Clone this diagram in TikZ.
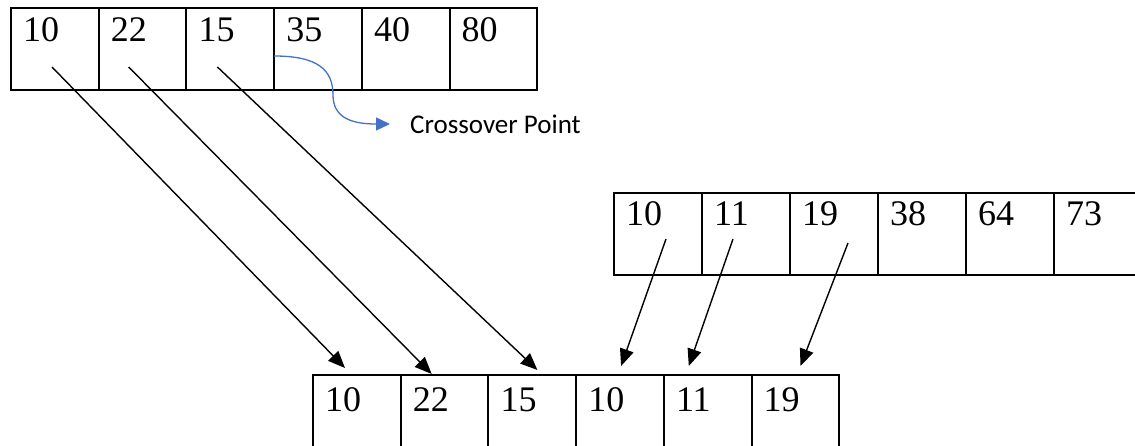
\documentclass[tikz,border=0pt]{standalone}
\usepackage{fontspec}
\setmainfont{Liberation Serif}
\newfontfamily\calib{Carlito}
\usetikzlibrary{arrows.meta,calc}
\begin{document}
\begin{tikzpicture}[x=1pt,y=-1pt,
  cell/.style={draw,line width=2pt,minimum width=87.7pt,minimum height=82pt,inner sep=0pt,outer sep=0pt,anchor=north west},
  num/.style={anchor=base west,font=\fontsize{36}{40}\selectfont,inner sep=0pt},
  conn/.style={line width=1.4pt,-{Triangle[length=17pt,width=14pt]}},
  blueconn/.style={line width=1.3pt,draw={rgb,255:red,68;green,114;blue,196},-{Triangle[length=14pt,width=13pt,fill={rgb,255:red,68;green,114;blue,196}]}}]
\clip (0,0) rectangle (1135,446);
\fill[white] (0,0) rectangle (1135,446);
% top array
\foreach \v [count=\i] in {10,22,15,35,40,80}{
  \node[cell] (t\i) at ({11+(\i-1)*87.7},8) {};
  \node[num] (t\i txt) at ($(t\i.north west)+(12,34)$) {\v};
}
% second array
\foreach \v [count=\i] in {10,11,19,38,64,73}{
  \node[cell] (s\i) at ({614+(\i-1)*88},193) {};
  \node[num] (s\i txt) at ($(s\i.north west)+(12,33)$) {\v};
}
% bottom (offspring) array
\foreach \v [count=\i] in {10,22,15,10,11,19}{
  \node[cell,minimum height=100pt] (b\i) at ({313+(\i-1)*87.7},375) {};
  \node[num] (b\i txt) at ($(b\i.north west)+(12,36)$) {\v};
}
% connector end points
\coordinate (t1s) at ($(t1.north west)+(41,59)$);
\coordinate (t2s) at ($(t2.north west)+(30,59)$);
\coordinate (t3s) at ($(t3.north west)+(31,59)$);
\coordinate (s1s) at ($(s1.north west)+(52,46)$);
\coordinate (s2s) at ($(s2.north west)+(31,46)$);
\coordinate (s3s) at ($(s3.north west)+(58,50)$);
\coordinate (b1e) at ($(b1.north west)+(32,-7)$);
\coordinate (b2e) at ($(b2.north west)+(31,-1)$);
\coordinate (b3e) at ($(b3.north west)+(49,-5)$);
\coordinate (b4e) at ($(b4.north west)+(45,-9)$);
\coordinate (b5e) at ($(b5.north west)+(25,-9)$);
\coordinate (b6e) at ($(b6.north west)+(49,-9)$);
\draw[conn] (t1s) -- (b1e);
\draw[conn] (t2s) -- (b2e);
\draw[conn] (t3s) -- (b3e);
\draw[conn] (s1s) -- (b4e);
\draw[conn] (s2s) -- (b5e);
\draw[conn] (s3s) -- (b6e);
% crossover point
\node[anchor=base west,inner sep=0pt,font=\calib\fontsize{27}{32}\selectfont] (cp) at (410,134) {Crossover Point};
\coordinate (cps) at ($(t4.north west)+(0,48)$);
\coordinate (cpe) at ($(cp.base west)+(-20,-10)$);
\draw[blueconn] (cps) .. controls (318,56) and (333,70) .. (333,95) .. controls (333,118) and (352,124) .. (cpe);
\end{tikzpicture}
\end{document}
